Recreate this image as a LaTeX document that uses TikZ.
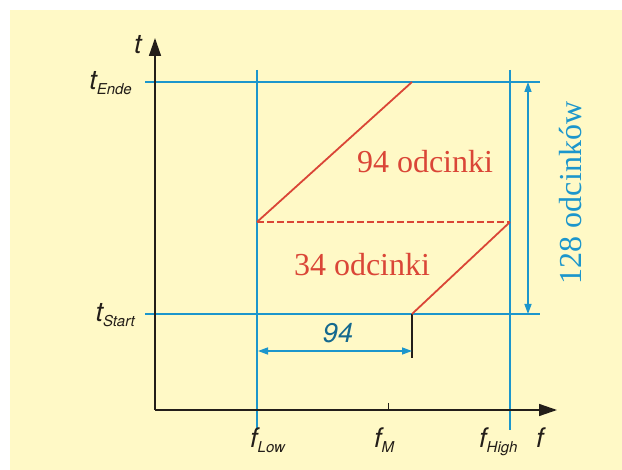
\documentclass[tikz,border=0pt]{standalone}
\usepackage{fontspec}
\setmainfont{Liberation Serif}
\setsansfont{TeX Gyre Heros}
\usetikzlibrary{arrows.meta}
\definecolor{bgyellow}{RGB}{255,249,198}
\definecolor{lineblue}{RGB}{28,150,204}
\definecolor{linered}{RGB}{218,70,55}
\definecolor{axisblack}{RGB}{35,30,25}
\newcommand\mysubfont{\sffamily\itshape\fontsize{15}{15}\selectfont}
\newcommand\mysub[1]{\raisebox{-5pt}{\mysubfont #1}}
\tikzset{
  axisline/.style={draw=axisblack, line width=1.5pt, -{Triangle[length=18pt,width=12pt]}},
  guide/.style={draw=lineblue, line width=1.4pt},
  dimarrow/.style={draw=lineblue, line width=1.4pt, {Triangle[length=10pt,width=7pt]}-{Triangle[length=10pt,width=7pt]}},
  ramp/.style={draw=linered, line width=1.8pt},
  axlabel/.style={font=\sffamily\itshape\fontsize{27}{27}\selectfont, text=axisblack, inner sep=0pt},
  redtext/.style={font=\fontsize{32}{32}\selectfont, text=linered, inner sep=0pt},
  bluetext/.style={font=\fontsize{32}{32}\selectfont, text=lineblue, inner sep=0pt},
}
\begin{document}
\begin{tikzpicture}[x=1pt,y=-1pt]
\useasboundingbox (0,0) rectangle (622,470);
\fill[bgyellow] (10,10) rectangle (622,470);
% coordinates
\coordinate (O) at (155,410);
\coordinate (ytop) at (155,38);
\coordinate (xend) at (557,410);
\coordinate (EndeL) at (145,82);
\coordinate (EndeR) at (540,82);
\coordinate (StartL) at (145,314);
\coordinate (StartR) at (540,314);
\coordinate (LowT) at (257,70);
\coordinate (LowB) at (257,430);
\coordinate (HighT) at (510,70);
\coordinate (HighB) at (510,430);
\coordinate (MT) at (388,403);
\coordinate (MB) at (388,410);
\coordinate (A) at (257,222);
\coordinate (B) at (412,82);
\coordinate (C) at (510,222);
\coordinate (D) at (412,314);
\coordinate (Dlow) at (412,358);
\coordinate (d1) at (258,351);
\coordinate (d2) at (412,351);
\coordinate (v1) at (528,82);
\coordinate (v2) at (528,314);
% blue guides
\draw[guide] (EndeL) -- (EndeR);
\draw[guide] (StartL) -- (StartR);
\draw[guide] (LowT) -- (LowB);
\draw[guide] (HighT) -- (HighB);
% axes
\draw[axisline] (O) -- (ytop);
\draw[axisline] (O) -- (xend);
\draw[draw=axisblack, line width=1pt] (MT) -- (MB);
\draw[draw=axisblack, line width=1.2pt] (D) -- (Dlow);
% red ramps
\draw[ramp] (A) -- (B);
\draw[ramp, dashed, dash pattern=on 7pt off 3pt] (A) -- (C);
\draw[ramp] (D) -- (C);
% dimension arrows
\draw[dimarrow] (d1) -- (d2);
\draw[dimarrow] (v1) -- (v2);
% labels
\node[redtext] (t94) at (425,162) {94 odcinki};
\node[redtext] (t34) at (362,265) {34 odcinki};
\node[bluetext, rotate=90] (t128) at (571,193) {128 odcinków};
\node[axlabel, text=lineblue!70!black] (n94) at (338,333) {94};
\node[axlabel] (tlab) at (138,45) {t};
\node[axlabel, anchor=base east] (tende) at (132,90) {t\mysub{Ende}};
\node[axlabel, anchor=base east] (tstart) at (135,322) {t\mysub{Start}};
\node[axlabel, anchor=base west] (flow) at (250,448) {f\mysub{Low}};
\node[axlabel, anchor=base west] (fm) at (374,448) {f\mysub{M}};
\node[axlabel, anchor=base west] (fhigh) at (479,448) {f\mysub{High}};
\node[axlabel, anchor=base west] (flab) at (536,448) {f};
\end{tikzpicture}
\end{document}
